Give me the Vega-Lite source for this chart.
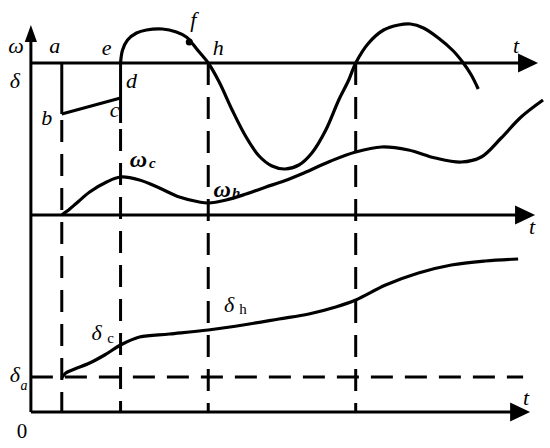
{
  "$schema": "https://vega.github.io/schema/vega-lite/v6.json",
  "width": 550,
  "height": 448,
  "autosize": {"type": "fit", "contains": "padding"},
  "padding": 0,
  "background": "white",
  "view": {"stroke": null},
  "config": {"axis": null, "text": {"font": "Times New Roman, Liberation Serif, DejaVu Serif, serif"}},
  "datasets": {
    "segments": [
      {"kind": "solid", "x1": 31, "y1": 412, "x2": 31, "y2": 36},
      {"kind": "solid", "x1": 31, "y1": 63, "x2": 524, "y2": 63},
      {"kind": "solid", "x1": 31, "y1": 215, "x2": 521, "y2": 215},
      {"kind": "solid", "x1": 31, "y1": 412, "x2": 516, "y2": 412},
      {"kind": "solid", "x1": 62, "y1": 63, "x2": 62, "y2": 114},
      {"kind": "solid", "x1": 62, "y1": 114, "x2": 121, "y2": 98},
      {"kind": "solid", "x1": 121, "y1": 63, "x2": 121, "y2": 123},
      {"kind": "dashed", "x1": 62, "y1": 120, "x2": 62, "y2": 412},
      {"kind": "dashed", "x1": 121, "y1": 129, "x2": 121, "y2": 412},
      {"kind": "dashed", "x1": 209, "y1": 63, "x2": 209, "y2": 412},
      {"kind": "dashed", "x1": 357, "y1": 63, "x2": 357, "y2": 412},
      {"kind": "dashed", "x1": 31, "y1": 377, "x2": 525, "y2": 377}
    ],
    "arrows": [
      {"dir": "right", "x": 530, "y": 63},
      {"dir": "right", "x": 527, "y": 215},
      {"dir": "right", "x": 522, "y": 412},
      {"dir": "up", "x": 31, "y": 33.5}
    ],
    "curves": [
      {"curve": "top", "x": 121, "y": 63}, {"curve": "top", "x": 123, "y": 50}, {"curve": "top", "x": 128, "y": 40},
      {"curve": "top", "x": 137, "y": 33}, {"curve": "top", "x": 147, "y": 30}, {"curve": "top", "x": 163, "y": 29},
      {"curve": "top", "x": 177, "y": 32}, {"curve": "top", "x": 187, "y": 37}, {"curve": "top", "x": 191, "y": 41},
      {"curve": "top", "x": 200, "y": 52}, {"curve": "top", "x": 209, "y": 63}, {"curve": "top", "x": 220, "y": 82},
      {"curve": "top", "x": 233, "y": 110}, {"curve": "top", "x": 247, "y": 137}, {"curve": "top", "x": 260, "y": 156},
      {"curve": "top", "x": 273, "y": 166}, {"curve": "top", "x": 286, "y": 169}, {"curve": "top", "x": 300, "y": 165},
      {"curve": "top", "x": 313, "y": 153}, {"curve": "top", "x": 327, "y": 130}, {"curve": "top", "x": 340, "y": 100},
      {"curve": "top", "x": 350, "y": 80}, {"curve": "top", "x": 357, "y": 63}, {"curve": "top", "x": 370, "y": 43},
      {"curve": "top", "x": 385, "y": 30}, {"curve": "top", "x": 400, "y": 25}, {"curve": "top", "x": 412, "y": 24},
      {"curve": "top", "x": 425, "y": 28}, {"curve": "top", "x": 440, "y": 38}, {"curve": "top", "x": 455, "y": 51},
      {"curve": "top", "x": 465, "y": 63}, {"curve": "top", "x": 473, "y": 75}, {"curve": "top", "x": 480, "y": 89},
      {"curve": "mid", "x": 62, "y": 215}, {"curve": "mid", "x": 70, "y": 209}, {"curve": "mid", "x": 77, "y": 203},
      {"curve": "mid", "x": 90, "y": 192}, {"curve": "mid", "x": 107, "y": 182}, {"curve": "mid", "x": 121, "y": 177},
      {"curve": "mid", "x": 140, "y": 180}, {"curve": "mid", "x": 160, "y": 188}, {"curve": "mid", "x": 180, "y": 197},
      {"curve": "mid", "x": 200, "y": 202}, {"curve": "mid", "x": 209, "y": 203}, {"curve": "mid", "x": 227, "y": 200},
      {"curve": "mid", "x": 247, "y": 194}, {"curve": "mid", "x": 267, "y": 187}, {"curve": "mid", "x": 285, "y": 181},
      {"curve": "mid", "x": 305, "y": 173}, {"curve": "mid", "x": 332, "y": 161}, {"curve": "mid", "x": 357, "y": 152},
      {"curve": "mid", "x": 383, "y": 147}, {"curve": "mid", "x": 410, "y": 150}, {"curve": "mid", "x": 437, "y": 158},
      {"curve": "mid", "x": 463, "y": 162}, {"curve": "mid", "x": 483, "y": 157}, {"curve": "mid", "x": 503, "y": 138},
      {"curve": "mid", "x": 523, "y": 117}, {"curve": "mid", "x": 545, "y": 100},
      {"curve": "low", "x": 62, "y": 378}, {"curve": "low", "x": 66, "y": 373}, {"curve": "low", "x": 75, "y": 369},
      {"curve": "low", "x": 90, "y": 363}, {"curve": "low", "x": 105, "y": 355}, {"curve": "low", "x": 121, "y": 345},
      {"curve": "low", "x": 140, "y": 337}, {"curve": "low", "x": 170, "y": 334}, {"curve": "low", "x": 209, "y": 330},
      {"curve": "low", "x": 250, "y": 324}, {"curve": "low", "x": 280, "y": 319}, {"curve": "low", "x": 310, "y": 314},
      {"curve": "low", "x": 337, "y": 307}, {"curve": "low", "x": 357, "y": 300}, {"curve": "low", "x": 387, "y": 285},
      {"curve": "low", "x": 420, "y": 273}, {"curve": "low", "x": 453, "y": 265}, {"curve": "low", "x": 487, "y": 261},
      {"curve": "low", "x": 520, "y": 259}
    ],
    "points": [{"name": "f", "x": 190, "y": 42}],
    "labels": [
      {"role": "it", "text": "ω", "x": 16, "y": 53},
      {"role": "it", "text": "δ", "x": 15, "y": 88},
      {"role": "it", "text": "a", "x": 55, "y": 53},
      {"role": "it", "text": "e", "x": 107, "y": 55},
      {"role": "it", "text": "d", "x": 132, "y": 88},
      {"role": "it", "text": "b", "x": 47, "y": 125},
      {"role": "it", "text": "c", "x": 115, "y": 117},
      {"role": "it", "text": "f", "x": 194, "y": 27},
      {"role": "it", "text": "h", "x": 219, "y": 55},
      {"role": "it", "text": "t", "x": 518, "y": 53},
      {"role": "it", "text": "t", "x": 534, "y": 234},
      {"role": "it", "text": "t", "x": 528, "y": 405},
      {"role": "bold", "text": "ω", "x": 139, "y": 167},
      {"role": "boldsub", "text": "c", "x": 153, "y": 168},
      {"role": "bold", "text": "ω", "x": 223, "y": 197},
      {"role": "boldsub", "text": "h", "x": 237, "y": 198},
      {"role": "it", "text": "δ", "x": 97, "y": 340},
      {"role": "rmsub", "text": "c", "x": 111, "y": 343},
      {"role": "it", "text": "δ", "x": 230, "y": 312},
      {"role": "rmsub", "text": "h", "x": 244, "y": 314},
      {"role": "it", "text": "δ", "x": 15, "y": 382},
      {"role": "itsub", "text": "a", "x": 24, "y": 390},
      {"role": "rm", "text": "0", "x": 22, "y": 438}
    ]
  },
  "layer": [
    {
      "data": {"name": "segments"},
      "transform": [{"filter": "datum.kind === 'solid'"}],
      "mark": {"type": "rule", "color": "black", "strokeWidth": 3},
      "encoding": {
        "x": {"field": "x1", "type": "quantitative", "scale": {"domain": [0, 550], "nice": false, "zero": false}, "axis": null},
        "y": {"field": "y1", "type": "quantitative", "scale": {"domain": [0, 448], "nice": false, "zero": false, "reverse": true}, "axis": null},
        "x2": {"field": "x2"},
        "y2": {"field": "y2"}
      }
    },
    {
      "data": {"name": "segments"},
      "transform": [{"filter": "datum.kind === 'dashed'"}],
      "mark": {"type": "rule", "color": "black", "strokeWidth": 3, "strokeDash": [22, 12]},
      "encoding": {
        "x": {"field": "x1", "type": "quantitative"},
        "y": {"field": "y1", "type": "quantitative"},
        "x2": {"field": "x2"},
        "y2": {"field": "y2"}
      }
    },
    {
      "data": {"name": "curves"},
      "mark": {"type": "line", "color": "black", "strokeWidth": 3.2, "interpolate": "catmull-rom"},
      "encoding": {
        "x": {"field": "x", "type": "quantitative"},
        "y": {"field": "y", "type": "quantitative"},
        "detail": {"field": "curve"},
        "order": {"field": "x", "type": "quantitative"}
      }
    },
    {
      "data": {"name": "arrows"},
      "transform": [{"filter": "datum.dir === 'right'"}],
      "mark": {"type": "point", "filled": true, "color": "black", "opacity": 1, "shape": "M-1,-0.95L1,0L-1,0.95Z", "size": 400},
      "encoding": {
        "x": {"field": "x", "type": "quantitative"},
        "y": {"field": "y", "type": "quantitative"}
      }
    },
    {
      "data": {"name": "arrows"},
      "transform": [{"filter": "datum.dir === 'up'"}],
      "mark": {"type": "point", "filled": true, "color": "black", "opacity": 1, "shape": "M-0.72,1L0,-1L0.72,1Z", "size": 289},
      "encoding": {
        "x": {"field": "x", "type": "quantitative"},
        "y": {"field": "y", "type": "quantitative"}
      }
    },
    {
      "data": {"name": "points"},
      "mark": {"type": "point", "filled": true, "color": "black", "opacity": 1, "shape": "circle", "size": 50},
      "encoding": {
        "x": {"field": "x", "type": "quantitative"},
        "y": {"field": "y", "type": "quantitative"}
      }
    },
    {
      "data": {"name": "labels"},
      "transform": [{"filter": "datum.role === 'it'"}],
      "mark": {"type": "text", "fontStyle": "italic", "fontSize": 22, "align": "center", "baseline": "alphabetic", "color": "black"},
      "encoding": {
        "x": {"field": "x", "type": "quantitative"},
        "y": {"field": "y", "type": "quantitative"},
        "text": {"field": "text"}
      }
    },
    {
      "data": {"name": "labels"},
      "transform": [{"filter": "datum.role === 'bold'"}],
      "mark": {"type": "text", "fontStyle": "italic", "fontWeight": "bold", "fontSize": 24, "align": "center", "baseline": "alphabetic", "color": "black"},
      "encoding": {
        "x": {"field": "x", "type": "quantitative"},
        "y": {"field": "y", "type": "quantitative"},
        "text": {"field": "text"}
      }
    },
    {
      "data": {"name": "labels"},
      "transform": [{"filter": "datum.role === 'boldsub'"}],
      "mark": {"type": "text", "fontStyle": "italic", "fontWeight": "bold", "fontSize": 15, "align": "center", "baseline": "alphabetic", "color": "black"},
      "encoding": {
        "x": {"field": "x", "type": "quantitative"},
        "y": {"field": "y", "type": "quantitative"},
        "text": {"field": "text"}
      }
    },
    {
      "data": {"name": "labels"},
      "transform": [{"filter": "datum.role === 'rmsub'"}],
      "mark": {"type": "text", "fontSize": 15, "align": "center", "baseline": "alphabetic", "color": "black"},
      "encoding": {
        "x": {"field": "x", "type": "quantitative"},
        "y": {"field": "y", "type": "quantitative"},
        "text": {"field": "text"}
      }
    },
    {
      "data": {"name": "labels"},
      "transform": [{"filter": "datum.role === 'itsub'"}],
      "mark": {"type": "text", "fontStyle": "italic", "fontSize": 14, "align": "center", "baseline": "alphabetic", "color": "black"},
      "encoding": {
        "x": {"field": "x", "type": "quantitative"},
        "y": {"field": "y", "type": "quantitative"},
        "text": {"field": "text"}
      }
    },
    {
      "data": {"name": "labels"},
      "transform": [{"filter": "datum.role === 'rm'"}],
      "mark": {"type": "text", "fontSize": 21, "align": "center", "baseline": "alphabetic", "color": "black"},
      "encoding": {
        "x": {"field": "x", "type": "quantitative"},
        "y": {"field": "y", "type": "quantitative"},
        "text": {"field": "text"}
      }
    }
  ]
}
